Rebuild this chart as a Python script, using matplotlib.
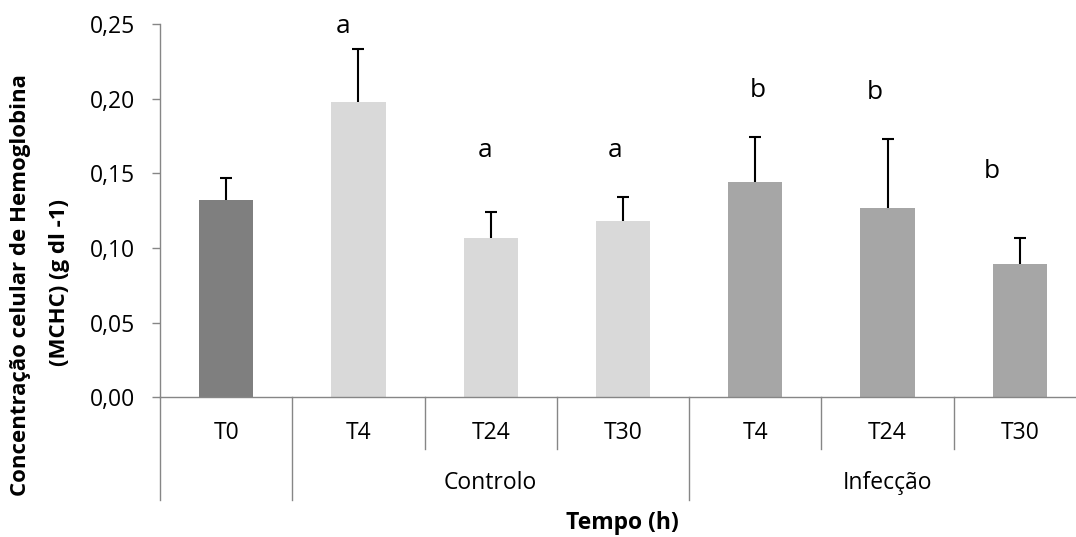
import matplotlib
matplotlib.use("Agg")
import matplotlib.pyplot as plt
import matplotlib.transforms as mtransforms

# ---- data ----
categories = ["T0", "T4", "T24", "T30", "T4", "T24", "T30"]
groups = ["", "Controlo", "Infecção"]
group_spans = [(0, 1), (1, 4), (4, 7)]
values = [0.132, 0.198, 0.107, 0.118, 0.144, 0.127, 0.089]
errors = [0.015, 0.035, 0.017, 0.016, 0.030, 0.046, 0.018]
letters = ["", "a", "a", "a", "b", "b", "b"]
letter_heights = [0, 0.2438, 0.1611, 0.1611, 0.2013, 0.1998, 0.1467]
letter_offsets = [0, -0.117, -0.04, -0.06, 0.02, -0.10, -0.21]
bar_colors = ["#7f7f7f", "#d9d9d9", "#d9d9d9", "#d9d9d9", "#a6a6a6", "#a6a6a6", "#a6a6a6"]
yticks = [0.00, 0.05, 0.10, 0.15, 0.20, 0.25]
ytick_labels = ["0,00", "0,05", "0,10", "0,15", "0,20", "0,25"]

FONT = "Open Sans"
AX_GRAY = "#868686"

W, H = 1076, 537
fig = plt.figure(figsize=(W / 100, H / 100), dpi=100)
left_px, right_px, bottom_px, top_px = 160, 1086, 397.3, 24
ax = fig.add_axes([left_px / W, (H - bottom_px) / H,
                   (right_px - left_px) / W, (bottom_px - top_px) / H])

n = len(categories)
xs = [i + 0.5 for i in range(n)]
ax.bar(xs, values, width=0.41, color=bar_colors, zorder=2)

# one-sided (upper) error bars
ax.vlines(xs, values, [v + e for v, e in zip(values, errors)], color="black", lw=1.5, zorder=3)
ax.plot(xs, [v + e for v, e in zip(values, errors)], linestyle="none", marker="_",
        markersize=8.5, markeredgewidth=1.5, color="black", zorder=3)

for x, l, h, off in zip(xs, letters, letter_heights, letter_offsets):
    if l:
        ax.text(x + off, h, l, ha="center", va="baseline", fontsize=19, family=FONT)

ax.set_xlim(0, n)
ax.set_ylim(0, 0.25)
ax.set_yticks(yticks)
ax.set_yticklabels(ytick_labels, family=FONT, fontsize=16.5)
ax.tick_params(axis="y", direction="out", length=6, width=1, color=AX_GRAY, pad=12)
ax.set_xticks([])
for s in ["top", "right"]:
    ax.spines[s].set_visible(False)
for s in ["left", "bottom"]:
    ax.spines[s].set_color(AX_GRAY)
    ax.spines[s].set_linewidth(1)

# category axis drawn below the plot
trans = mtransforms.blended_transform_factory(ax.transData, ax.transAxes)
ph = bottom_px - top_px
def ax_y(px):
    return (bottom_px - px) / ph

group_edges = sorted(set([a for a, b in group_spans] + [b for a, b in group_spans]))
for i in range(n + 1):
    y_end = ax_y(500) if i in group_edges else ax_y(449)
    ax.plot([i, i], [0, y_end], transform=trans, color=AX_GRAY, lw=1, clip_on=False)

for x, c in zip(xs, categories):
    ax.text(x, ax_y(433), c, transform=trans, ha="center", va="center",
            fontsize=16.5, family=FONT)
for g, (a, b) in zip(groups, group_spans):
    if g:
        ax.text((a + b) / 2, ax_y(483), g, transform=trans, ha="center", va="center",
                fontsize=16.5, family=FONT)

fig.text(622 / W, 1 - 523 / H, "Tempo (h)", ha="center", va="center",
         fontsize=16.5, family=FONT, fontweight="bold")
fig.text(21 / W, 1 - 285 / H, "Concentração celular de Hemoglobina", rotation=90,
         ha="center", va="center", fontsize=16, family=FONT, fontweight="bold")
fig.text(59 / W, 1 - 282 / H, "(MCHC) (g dl -1)", rotation=90,
         ha="center", va="center", fontsize=16, family=FONT, fontweight="bold")

fig.savefig("out.png", dpi=100)
